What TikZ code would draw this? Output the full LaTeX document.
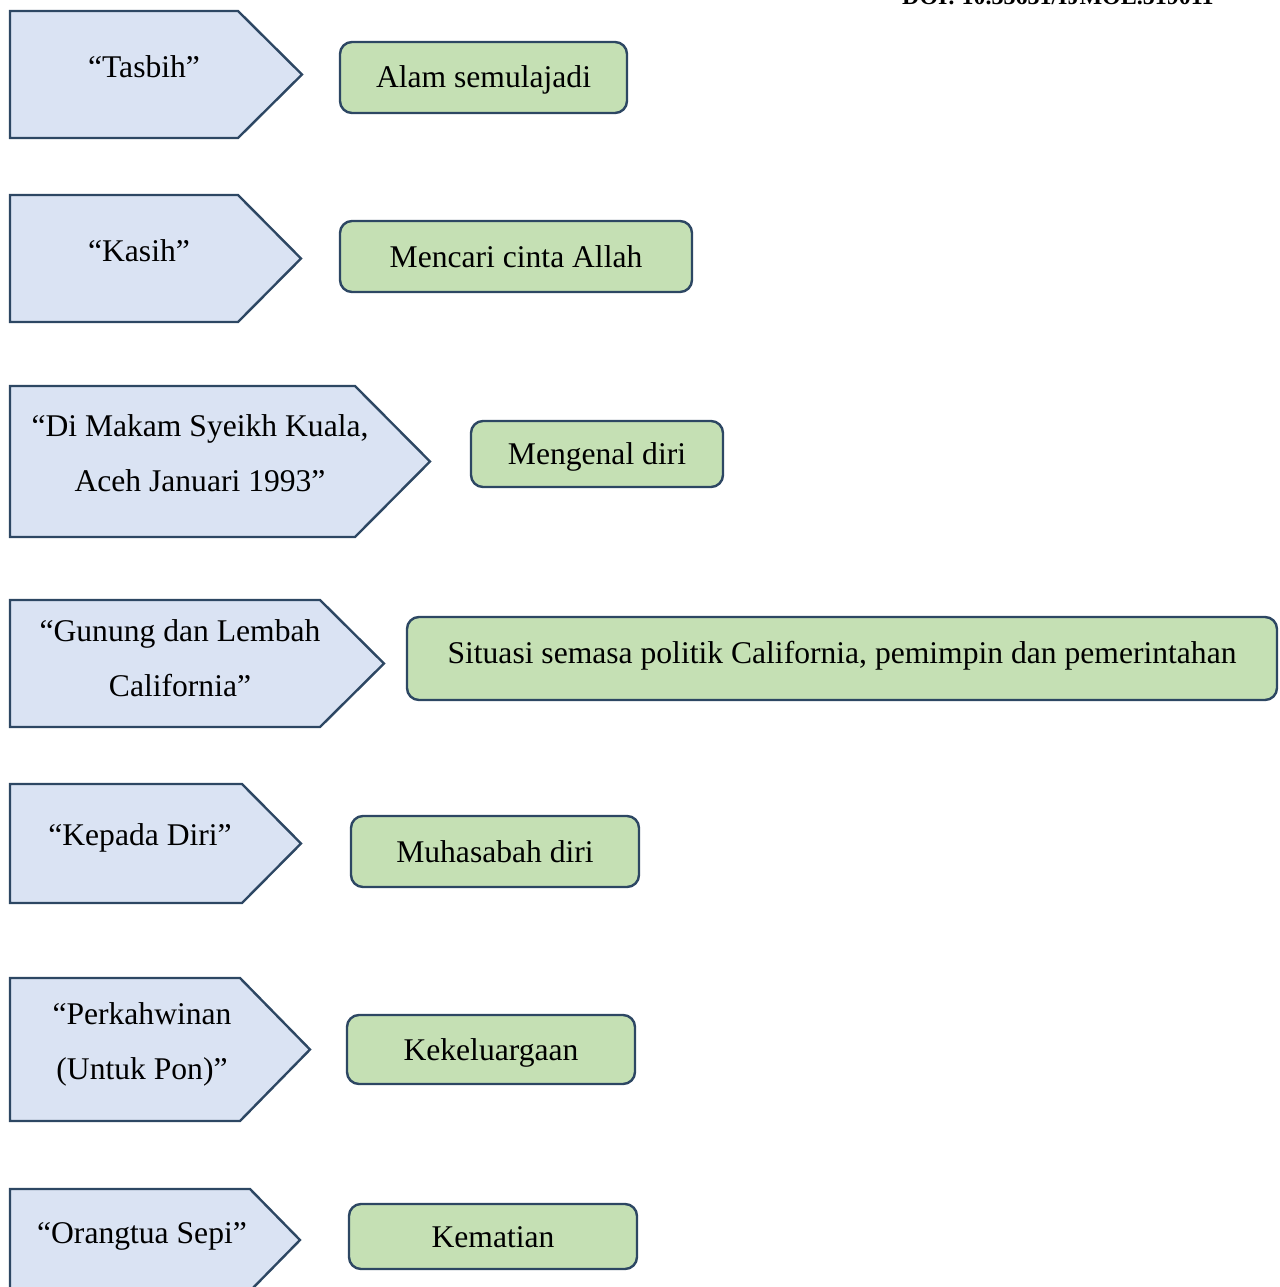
\documentclass[tikz,border=0pt]{standalone}
\usepackage{fontspec}
\setmainfont{Liberation Serif}
\usepackage{xcolor}
\definecolor{PoemFill}{HTML}{DAE3F3}
\definecolor{ThemeFill}{HTML}{C5E0B4}
\definecolor{EdgeBlue}{HTML}{2D4763}
\begin{document}
\begin{tikzpicture}[x=1pt,y=-1pt,
		pentagon/.style={draw=EdgeBlue,fill=PoemFill,line width=2.4pt,line join=miter},
		themebox/.style={draw=EdgeBlue,fill=ThemeFill,line width=2.4pt,rounded corners=12pt,inner sep=0pt,
			text height=27pt,text depth=6pt},
		poem/.style={anchor=base,inner sep=0pt},
		poemtwo/.style={align=center,inner sep=0pt}]
			% \draw[help lines] (0,0) grid[step=100] (1279,1287);
			\clip (0,0) rectangle (1279,1287);
			\fontsize{31.6}{55}\selectfont
			\node[anchor=base west,inner sep=0pt,font=\bfseries\fontsize{24}{28}\selectfont] (doi) at (902,5) {DOI: 10.33631/IJMOL.519011};
			% top, bottom, corner and tip of each arrow shape
			\foreach \t/\b/\c/\p in {11/138/238/302, 195/322/238/301, 386/537/355/430, 600/727/320/384,
				784/903/242/301, 978/1121/240/310, 1189/1291/250/300}{
				\draw[pentagon] (10,\t) -- (\c,\t) -- (\p,{(\t+\b)/2}) -- (\c,\b) -- (10,\b) -- cycle;
			}
			\node[poem] (tasbih) at (144,78) {“Tasbih”};
			\node[poem] (kasih) at (139,261) {“Kasih”};
			\node[poemtwo] (makam) at (200,453) {“Di Makam Syeikh Kuala,\\Aceh Januari 1993”};
			\node[poemtwo] (gunung) at (180,658) {“Gunung dan Lembah\\California”};
			\node[poem] (kepada) at (140,845) {“Kepada Diri”};
			\node[poemtwo] (kahwin) at (142,1044) {“Perkahwinan\\(Untuk Pon)”};
			\node[poem] (orangtua) at (142,1243) {“Orangtua Sepi”};
			\node[themebox,minimum width=287pt,minimum height=71pt] (alam) at (483.5,77.5) {Alam semulajadi};
			\node[themebox,minimum width=352pt,minimum height=71pt] (cinta) at (516,256.5) {Mencari cinta Allah};
			\node[themebox,minimum width=252pt,minimum height=66pt] (kenal) at (597,454) {Mengenal diri};
			\node[themebox,minimum width=870pt,minimum height=83pt,text depth=18pt] (politik) at (842,658.5) {Situasi semasa politik California, pemimpin dan pemerintahan};
			\node[themebox,minimum width=288pt,minimum height=71pt] (muhasabah) at (495,851.5) {Muhasabah diri};
			\node[themebox,minimum width=288pt,minimum height=69pt] (keluarga) at (491,1049.5) {Kekeluargaan};
			\node[themebox,minimum width=288pt,minimum height=65pt] (mati) at (493,1236.5) {Kematian};
		\end{tikzpicture}
\end{document}
